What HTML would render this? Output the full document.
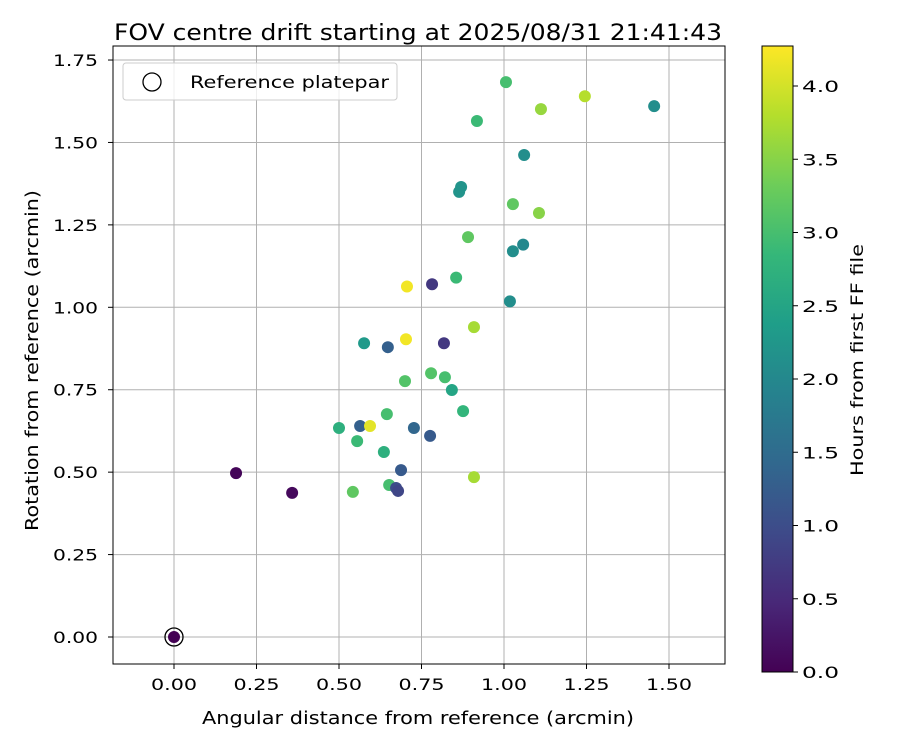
<!DOCTYPE html>
<html><head><meta charset="utf-8"><style>
body{margin:0;background:#fff}
svg text{font-family:"DejaVu Sans","Liberation Sans",sans-serif;fill:#000}
</style></head><body>
<svg id="chart" width="900" height="750" xmlns="http://www.w3.org/2000/svg">
<text x="114" y="40" font-size="22" textLength="608" lengthAdjust="spacingAndGlyphs">FOV centre drift starting at 2025/08/31 21:41:43</text>
<g id="grid"></g>
<g id="points"></g>
<rect x="113" y="46" width="612" height="618" fill="none" stroke="#000" stroke-width="1"/>
<g id="axes"></g>
<text x="202" y="724" font-size="18" textLength="432" lengthAdjust="spacingAndGlyphs">Angular distance from reference (arcmin)</text>
<text transform="translate(38,531) rotate(-90)" font-size="18" textLength="341" lengthAdjust="spacingAndGlyphs">Rotation from reference (arcmin)</text>
<g>
<rect x="123" y="63" width="274" height="37" rx="3" fill="#fff" fill-opacity="0.8" stroke="#ccc"/>
<circle cx="152" cy="82" r="9" fill="none" stroke="#000" stroke-width="1.3"/>
<text x="190" y="88" font-size="17" textLength="199" lengthAdjust="spacingAndGlyphs">Reference platepar</text>
</g>
<defs><linearGradient id="vir" x1="0" y1="1" x2="0" y2="0"></linearGradient></defs>
<rect x="762" y="46" width="31" height="626" fill="url(#vir)" stroke="#000"/>
<g id="cbar"></g>
<text transform="translate(863,476) rotate(-90)" font-size="17" textLength="232" lengthAdjust="spacingAndGlyphs">Hours from first FF file</text>
</svg>
<script>
const xs=[0,0.188,0.358,1.006,1.112,1.245,1.455,0.918,1.061,0.864,0.870,1.027,1.106,0.891,1.027,1.058,0.855,0.706,0.782,1.018,0.909,0.703,0.576,0.648,0.818,0.700,0.779,0.821,0.842,0.876,0.645,0.500,0.564,0.594,0.727,0.776,0.555,0.636,0.688,0.909,0.652,0.542,0.673,0.679];
const ys=[0,0.497,0.437,1.683,1.601,1.640,1.610,1.565,1.462,1.350,1.365,1.313,1.286,1.213,1.170,1.190,1.090,1.063,1.070,1.018,0.940,0.903,0.891,0.879,0.891,0.776,0.800,0.788,0.749,0.685,0.676,0.634,0.640,0.640,0.634,0.610,0.594,0.561,0.506,0.485,0.461,0.440,0.452,0.443];
const hours=[0,0.05,0.1,3.0,3.6,3.8,2.1,2.9,2.1,2.2,2.2,3.2,3.5,3.2,2.1,2.0,2.9,4.2,0.7,2.1,3.7,4.2,2.3,1.3,0.7,3.1,3.1,3.0,2.5,2.8,3.0,2.7,1.3,4.1,1.4,1.2,2.9,2.7,1.2,3.7,3.0,3.2,1.0,0.9];
const xTicks=[0,0.25,0.5,0.75,1,1.25,1.5];
const yTicks=[0,0.25,0.5,0.75,1,1.25,1.5,1.75];
const cTicks=[0,0.5,1,1.5,2,2.5,3,3.5,4];
const X=v=>174+v*330, Y=v=>637-v*329.7, C=v=>672-v*146.5, tMax=4.27;
const vir=[[68,1,84],[72,40,120],[62,74,137],[49,104,142],[38,130,142],[31,158,137],[53,183,121],[109,205,89],[180,222,44],[253,231,37]];
function cmap(t){t=Math.max(0,Math.min(1,t))*9;const i=Math.min(8,Math.floor(t)),f=t-i,a=vir[i],b=vir[i+1];return `rgb(${a.map((v,k)=>Math.round(v+(b[k]-v)*f)).join(',')})`;}
const NS="http://www.w3.org/2000/svg";
function mk(tag,at,par){const e=document.createElementNS(NS,tag);for(const k in at)e.setAttribute(k,at[k]);par.appendChild(e);return e;}
const g=document.getElementById('grid'),ax=document.getElementById('axes'),pts=document.getElementById('points'),cb=document.getElementById('cbar');
xTicks.forEach(v=>{const l=mk('line',{x1:X(v),x2:X(v),y1:46,y2:664,stroke:'#b0b0b0','stroke-width':1},g);


mk('line',{x1:X(v),x2:X(v),y1:664,y2:669,stroke:'#000'},ax);
const t=mk('text',{x:X(v)-23,y:690,'font-size':16,textLength:46,lengthAdjust:'spacingAndGlyphs'},ax);t.textContent=v.toFixed(2);

});
yTicks.forEach(v=>{const l=mk('line',{x1:113,x2:725,y1:Y(v),y2:Y(v),stroke:'#b0b0b0','stroke-width':1},g);


mk('line',{x1:108,x2:113,y1:Y(v),y2:Y(v),stroke:'#000'},ax);
const t=mk('text',{x:53,y:Y(v)+6,'font-size':16,textLength:45,lengthAdjust:'spacingAndGlyphs'},ax);t.textContent=v.toFixed(2);

});
xs.forEach((v,i)=>{const c=mk('circle',{cx:X(v),cy:Y(ys[i]),r:6,fill:cmap(hours[i]/tMax)},pts);

});
const ref=mk('circle',{cx:X(0),cy:Y(0),r:9,fill:'none',stroke:'#000','stroke-width':1.3},pts);


const gr=document.getElementById('vir');
vir.forEach((c,i)=>mk('stop',{offset:i/9,'stop-color':`rgb(${c.join(',')})`},gr));
cTicks.forEach(v=>{mk('line',{x1:793,x2:798,y1:C(v),y2:C(v),stroke:'#000'},cb);
const t=mk('text',{x:802,y:C(v)+6,'font-size':16,textLength:37,lengthAdjust:'spacingAndGlyphs'},cb);t.textContent=v.toFixed(1);

});
</script>
</body></html>
